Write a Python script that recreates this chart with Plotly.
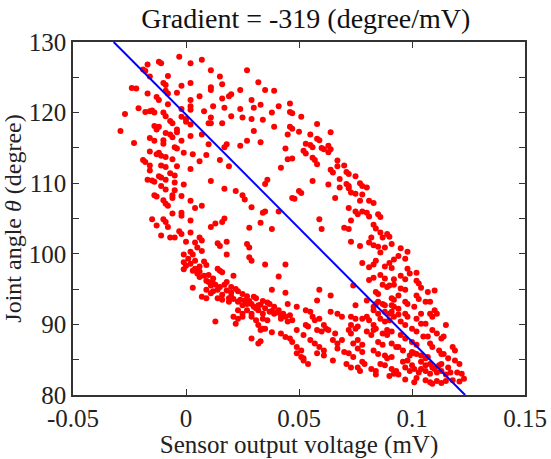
import plotly.graph_objects as go

# Left (descending) branch of the loop
left_x = [-0.003,0.007,-0.012,-0.011,-0.017,0.002,0.011,-0.019,-0.018,-0.016,-0.008,-0.010,-0.009,0.002,-0.002,0.011,0.011,-0.024,-0.022,-0.009,
          -0.008,-0.017,-0.004,0.006,-0.013,-0.012,0.002,0.002,0.002,0.012,0.008,-0.021,-0.018,-0.027,-0.016,-0.015,-0.014,-0.010,-0.009,-0.008,
          -0.002,0.011,-0.002,0.000,0.000,-0.007,-0.006,-0.014,-0.012,-0.013,0.010,0.011,0.002,-0.004,-0.004,-0.009,-0.029,-0.007,-0.006,0.007,
          0.002,-0.016,-0.014,-0.002,-0.010,-0.010,-0.023,0.010,-0.005,-0.004,-0.012,-0.013,-0.011,-0.009,-0.001,0.003,0.009,-0.016,-0.019,-0.018,
          -0.006,0.006,-0.016,-0.016,-0.011,-0.009,-0.004,0.002,-0.007,-0.005,-0.012,-0.011,0.011,-0.017,-0.015,-0.014,-0.009,-0.005,-0.001,-0.011,
          -0.009,-0.005,-0.014,-0.013,-0.006,-0.006,-0.002,-0.010,-0.009,0.002,0.007,-0.008,-0.002,-0.002,-0.006,0.004,-0.010,-0.009,-0.015,0.002,
          -0.013,0.011,-0.008,-0.003,-0.002,0.002,0.006,0.007,-0.007,-0.005,-0.011,0.000,0.004,0.005,0.002,0.003,-0.001,0.007,-0.001,0.000,-0.001,
          0.004,0.006,0.010,0.012,0.018,0.001,0.002,0.004,0.006,0.008,0.010,0.011]
left_y = [127.9,127.5,127.2,127.0,126.8,127.0,126.0,126.1,125.9,125.1,125.2,124.2,123.9,124.2,123.8,123.6,123.2,123.5,123.4,123.1,
          122.7,122.7,122.8,122.3,122.2,121.8,121.8,120.9,120.4,120.9,120.2,120.6,120.1,119.8,120.2,120.3,120.0,120.0,119.5,121.2,
          120.5,119.3,119.4,119.1,118.7,118.8,118.5,118.1,118.0,117.6,118.5,118.5,118.3,117.6,117.2,117.1,117.4,116.9,116.5,116.9,
          116.7,116.4,116.0,116.0,116.1,115.6,115.7,115.5,115.1,114.9,114.3,114.1,113.9,113.7,114.3,114.1,114.0,114.5,113.3,113.0,
          113.4,113.1,112.5,111.8,112.5,112.3,112.4,112.0,111.4,111.1,111.0,110.8,110.3,110.5,110.4,110.2,110.5,110.1,109.8,109.6,
          109.1,109.0,108.3,108.1,108.3,107.9,108.2,107.6,107.1,107.5,106.8,106.8,105.8,105.4,105.7,106.5,104.9,104.5,104.9,104.7,
          104.0,103.8,103.8,103.2,102.8,103.0,102.3,101.9,102.3,102.3,102.6,101.7,101.6,100.9,100.3,99.9,99.9,100.4,98.8,98.3,97.8,
          99.0,98.2,97.0,96.5,96.0,99.3,98.6,97.9,97.5,96.9,96.0,95.5]

# Upper inner / right (ascending) branch
upper_x = [0.027,0.015,0.032,0.016,0.035,0.039,0.024,0.020,0.019,0.016,0.029,0.046,0.033,0.041,0.024,0.030,0.046,0.047,0.017,0.038,
           0.051,0.020,0.025,0.029,0.034,0.016,0.046,0.047,0.058,0.039,0.050,0.064,0.030,0.055,0.045,0.058,0.059,0.053,0.055,0.056,
           0.027,0.018,0.017,0.033,0.024,0.060,0.061,0.063,0.064,0.063,0.052,0.053,0.044,0.056,0.057,0.045,0.047,0.067,0.067,0.015,
           0.058,0.070,0.019,0.042,0.064,0.065,0.071,0.072]
upper_y = [126.0,125.1,124.3,124.0,123.2,123.1,123.2,122.6,122.3,122.0,121.8,121.3,121.1,120.9,120.5,120.7,120.1,119.9,120.7,120.0,
           119.4,119.5,119.3,119.1,119.0,118.5,118.0,117.7,118.4,118.0,117.3,117.2,117.4,116.9,116.9,116.3,116.1,115.6,115.4,115.1,
           116.0,115.5,115.1,115.8,115.3,115.0,114.8,115.3,114.8,114.4,114.6,114.2,114.9,113.6,113.3,113.4,113.5,113.2,112.4,113.3,
           112.7,112.5,112.4,112.2,111.9,111.5,111.6,111.3]

# Right band and loop interior
right_x = [0.075,0.068,0.056,0.036,0.077,0.078,0.071,0.072,0.035,0.063,0.068,0.072,0.080,0.017,0.050,0.051,0.073,0.075,0.022,0.078,
           0.025,0.047,0.048,0.066,0.081,0.083,0.077,0.026,0.072,0.075,0.076,0.078,0.080,0.081,0.085,0.086,0.035,0.034,0.029,0.041,
           0.017,0.016,0.013,0.059,0.073,0.070,0.072,0.083,0.084,0.033,0.028,0.038,0.060,0.086,0.089,0.090,0.082,0.081,0.083,0.085,
           0.087,0.073,0.014,0.015,0.018,0.027,0.028,0.077,0.088,0.091,0.086,0.095,0.098,0.094,0.018,0.084,0.092,0.090,0.028,0.029,
           0.097,0.083,0.088,0.091,0.008,0.009,0.035,0.044,0.078,0.014,0.015,0.016,0.003,0.005,0.081,0.098,0.099,0.102,0.095,0.097,
           0.086,0.088,0.006,0.009,0.021,0.041,0.081,0.083,0.102,0.103,0.092]
right_y = [111.0,110.6,110.3,110.5,110.0,109.6,109.9,109.6,109.9,109.8,109.4,109.3,109.4,109.2,108.9,108.6,108.7,108.5,108.9,108.4,
           108.3,107.9,107.8,107.9,107.5,107.2,107.5,107.7,106.5,106.0,105.6,106.0,105.8,105.3,105.6,105.2,106.0,105.8,106.6,106.0,
           105.0,104.5,104.3,104.9,104.7,103.7,103.5,104.1,103.6,104.4,103.7,103.5,103.5,103.0,102.8,102.4,102.3,101.6,101.2,101.0,
           102.3,101.7,101.5,101.1,101.7,101.4,100.9,101.1,100.9,101.4,100.2,100.8,100.3,99.7,99.9,99.0,99.2,98.7,99.5,99.0,
           99.3,98.5,98.2,98.0,98.9,98.4,98.5,98.5,98.7,97.9,97.6,97.4,97.6,97.2,98.1,97.9,97.2,97.3,96.9,96.4,
           97.0,96.5,96.7,96.2,96.9,96.8,96.3,96.6,96.2,95.8,96.4]

# Lower (return) band
lower_x = [0.012,0.013,0.015,0.017,0.020,0.087,0.089,0.090,0.092,0.095,0.097,0.074,0.104,0.003,0.009,0.011,0.012,0.022,0.023,0.025,
           0.027,0.038,0.084,0.085,0.044,0.059,0.107,0.110,0.094,0.091,0.092,0.102,0.103,0.007,0.009,0.014,0.016,0.019,0.030,0.031,
           0.034,0.036,0.085,0.087,0.088,0.058,0.064,0.080,0.097,0.098,0.106,0.108,0.023,0.025,0.027,0.029,0.030,0.032,0.037,0.039,
           0.045,0.049,0.075,0.084,0.083,0.091,0.092,0.094,0.101,0.110,0.111,0.023,0.025,0.027,0.029,0.032,0.034,0.037,0.041,0.039,
           0.042,0.053,0.055,0.064,0.083,0.085,0.088,0.090,0.091,0.092,0.094,0.097,0.098,0.104,0.102,0.108,0.109,0.021,0.023,0.025,
           0.029,0.031,0.034,0.036,0.042,0.044,0.045,0.047,0.056,0.057,0.059,0.067,0.069,0.073,0.075,0.078,0.080,0.081,0.086,0.088,
           0.090,0.095,0.097,0.104,0.106,0.115,0.013,0.022,0.032,0.034,0.053,0.054,0.061,0.062,0.073,0.075,0.076,0.083,0.084,0.089,
           0.091,0.100,0.102,0.109,0.111,0.033,0.035,0.038,0.042,0.044,0.049,0.052,0.058,0.060,0.063,0.066,0.072,0.073,0.080,0.082,
           0.083,0.087,0.089,0.095,0.097,0.105,0.107,0.113,0.114,0.029,0.032,0.046,0.047,0.055,0.057,0.065,0.067,0.069,0.074,0.076,
           0.078,0.085,0.087,0.091,0.093,0.100,0.102,0.108,0.109,0.118,0.119,0.033,0.049,0.051,0.059,0.061,0.067,0.070,0.076,0.078,
           0.083,0.085,0.094,0.096,0.100,0.102,0.112,0.113,0.049,0.051,0.052,0.058,0.061,0.072,0.074,0.088,0.089,0.091,0.099,0.101,
           0.104,0.106,0.107,0.114,0.116,0.052,0.054,0.065,0.078,0.079,0.086,0.088,0.096,0.098,0.100,0.104,0.106,0.108,0.109,0.112,
           0.113,0.116,0.119,0.121,0.071,0.073,0.082,0.084,0.091,0.093,0.094,0.097,0.099,0.101,0.103,0.104,0.106,0.108,0.110,0.111,
           0.113,0.115,0.117,0.120,0.122,0.076,0.077,0.084,0.090,0.092,0.097,0.101,0.106,0.108,0.111,0.113,0.115,0.118,0.121,0.123,
           0.102,0.109,0.020,0.016,0.019,0.021,0.014,0.018,0.020,0.024,0.026,0.028,0.031,0.033,0.035,0.038,0.040,0.043,0.046]
lower_y = [95.8,95.6,95.3,95.6,95.3,95.6,95.3,95.5,95.6,95.1,94.9,95.5,95.2,95.2,94.9,94.4,94.7,95.0,94.7,94.3,
           94.0,94.9,94.6,94.3,94.5,94.9,94.6,94.8,94.1,93.7,93.5,94.1,93.6,93.9,93.7,93.7,93.5,93.7,93.9,93.7,
           93.3,93.1,93.2,92.9,92.7,93.4,94.1,93.4,93.2,92.9,93.2,93.2,93.2,92.7,92.9,92.9,92.5,92.7,92.9,92.5,
           92.9,92.5,92.7,92.9,92.5,92.7,92.5,92.2,92.5,92.0,91.5,92.0,91.5,92.0,91.5,92.0,91.5,91.8,92.0,91.5,
           91.3,92.0,91.8,91.8,92.0,91.5,91.8,91.5,91.8,91.1,91.4,91.5,91.1,91.5,90.8,91.5,91.1,91.1,90.8,91.1,
           91.1,90.6,90.8,90.6,90.8,91.1,90.4,90.6,91.1,90.6,90.8,91.5,91.1,91.1,90.8,90.8,91.1,90.6,90.8,90.4,
           90.6,90.4,89.9,90.1,90.1,89.9,90.4,90.1,89.9,89.4,89.9,89.7,89.9,89.4,89.9,89.4,89.7,89.9,89.4,89.2,
           89.0,89.4,89.0,89.2,88.7,89.2,89.4,88.9,88.7,88.2,89.2,88.5,89.2,89.0,89.2,88.7,89.2,88.7,89.0,88.5,
           89.2,88.7,88.5,88.5,88.0,88.3,88.3,88.0,88.3,88.0,87.3,88.0,87.5,87.8,87.3,87.8,87.3,87.8,87.3,87.8,
           87.1,87.5,87.1,87.3,86.8,87.5,87.1,87.3,86.8,86.8,86.3,87.6,86.8,86.3,86.8,86.3,86.6,86.1,86.6,86.1,
           86.3,85.8,86.8,86.3,86.1,85.8,86.3,85.8,85.9,85.4,85.2,85.9,85.6,85.9,85.4,85.6,85.2,85.4,85.6,85.9,
           85.6,85.2,85.4,85.8,85.2,84.9,84.4,84.9,84.7,84.4,84.4,84.2,84.7,84.9,84.2,84.7,84.2,84.4,83.9,84.2,
           84.4,83.9,84.9,84.4,84.4,83.9,83.7,83.4,83.7,83.4,82.9,83.9,83.4,83.7,83.2,83.7,83.4,83.0,83.7,83.2,
           83.4,82.9,83.2,83.2,83.0,83.9,83.4,82.9,82.7,83.0,82.2,81.8,82.1,81.8,82.0,81.7,82.0,82.1,81.9,82.3,
           82.4,81.6,94.5,94.2,93.2,93.6,94.9,94.8,93.9,93.5,93.4,93.3,92.3,92.8,92.3,91.9,91.7,91.5,91.3]

# Linear fit line end points (gradient = -319 degree/mV)
fit_x = [-0.032, 0.1235]
fit_y = [130, 80]

x_ticks = [-0.05, 0, 0.05, 0.1, 0.15]
x_tick_text = ["-0.05", "0", "0.05", "0.1", "0.15"]
y_ticks = [80, 85, 90, 95, 100, 105, 110, 115, 120, 125, 130]
y_tick_text = ["80", "", "90", "", "100", "", "110", "", "120", "", "130"]

all_x = left_x + upper_x + right_x + lower_x
all_y = left_y + upper_y + right_y + lower_y

font_family = "Liberation Serif, Times New Roman, serif"

fig = go.Figure()
fig.add_trace(go.Scatter(x=all_x, y=all_y, mode="markers",
                         marker=dict(color="#ff0000", size=6, line=dict(width=0)),
                         showlegend=False, cliponaxis=False))
fig.add_trace(go.Scatter(x=fit_x, y=fit_y, mode="lines",
                         line=dict(color="#0000ff", width=2), showlegend=False))

axis_common = dict(showline=True, linecolor="#333333", linewidth=1.5, mirror="ticks",
                   ticks="inside", ticklen=6, tickwidth=1, tickcolor="#333333",
                   showgrid=False, zeroline=False, automargin=False,
                   tickfont=dict(family=font_family, size=25, color="#222222"))

fig.update_layout(
    width=551, height=459,
    margin=dict(l=73, r=26, t=42, b=64),
    paper_bgcolor="white", plot_bgcolor="white",
    title=dict(text="Gradient = -319 (degree/mV)", x=0.555, xanchor="center", y=0.96, yanchor="middle",
               font=dict(family=font_family, size=28, color="#111111")),
    xaxis=dict(range=[-0.05, 0.15], tickvals=x_ticks, ticktext=x_tick_text,
               title=dict(text="Sensor output voltage (mV)", standoff=0,
                          font=dict(family=font_family, size=25, color="#222222")),
               **axis_common),
    yaxis=dict(range=[80, 130], tickvals=y_ticks, ticktext=y_tick_text,
               title=dict(text="Joint angle <i>θ</i> (degree)", standoff=0,
                          font=dict(family=font_family, size=24, color="#222222")),
               **axis_common),
)

fig.write_html("out.html", config={"displayModeBar": False},
               post_script="document.body.style.margin='0';document.body.style.padding='0';")
